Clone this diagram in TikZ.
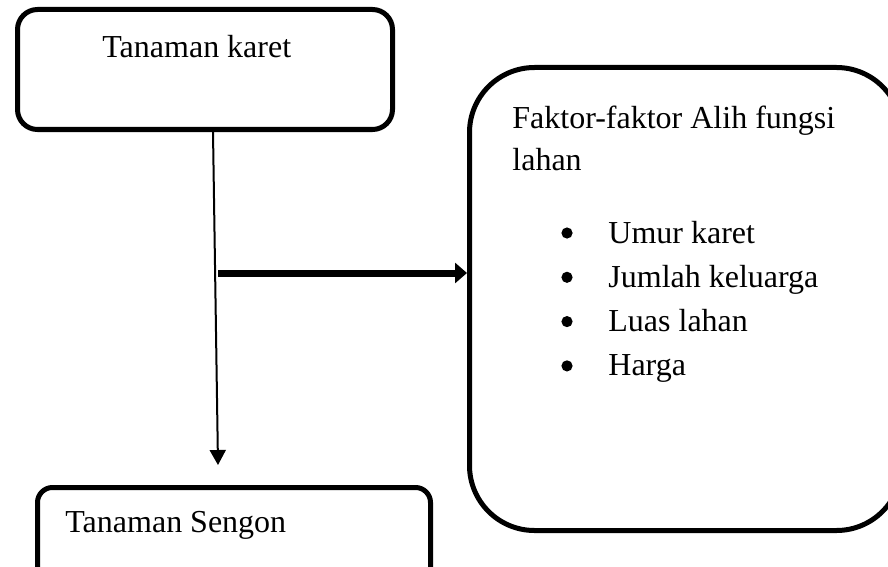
\documentclass[tikz,border=0pt]{standalone}
\usepackage{fontspec}
\setmainfont{Liberation Serif}
\usetikzlibrary{arrows.meta}

\tikzset{
    kotak/.style={draw, line width=2.5pt, rectangle, inner sep=0pt},
    teks/.style={anchor=base west, inner sep=0pt, font=\fontsize{16}{22}\selectfont},
    titik/.style={circle, fill, inner sep=0pt, minimum size=5.6pt},
    panahtipis/.style={line width=1pt, -{Triangle[length=7.5pt, width=8pt]}},
    panahtebal/.style={line width=3.5pt, -{Triangle[length=6pt, width=10pt]}},
}

\begin{document}
\begin{tikzpicture}[x=0.5pt, y=-0.5pt]
            \useasboundingbox (0, 0) rectangle (888, 567);
            \clip (0, 0) rectangle (888, 567);

            % kotak-kotak
            \node[kotak, rounded corners=10pt, minimum width=187.5pt, minimum height=60pt] (karet) at (205, 69.5) {};
            \node[kotak, rounded corners=32.5pt, minimum width=216pt, minimum height=231.5pt] (faktor) at (685.5, 299) {};
            \node[kotak, rounded corners=7.5pt, minimum width=196.5pt, minimum height=49pt] (sengon) at (234, 536.5) {};

            % teks
            \node[teks] (tkaret) at (102, 58) {Tanaman karet};
            \node[teks] (tsengon) at (65, 532) {Tanaman Sengon};
            \node[teks] (judul1) at (512, 128) {Faktor-faktor Alih fungsi};
            \node[teks] (judul2) at (512, 170) {lahan};

            \foreach \item [count=\i] in {Umur karet, Jumlah keluarga, Luas lahan, Harga} {
                \node[titik] (bul\i) at (567, 233 + 44.3*\i - 44.3) {};
                \node[teks] (item\i) at (608, 243 + 44.3*\i - 44.3) {\item};
            }

            % panah
            \coordinate (ujung) at (218, 465);
            \coordinate (cabang) at (218, 273);
            \draw[panahtipis] ([xshift=4pt]karet.south) -- (ujung);
            \draw[panahtebal] (cabang) -- (faktor.west |- cabang);

        \end{tikzpicture}
\end{document}
